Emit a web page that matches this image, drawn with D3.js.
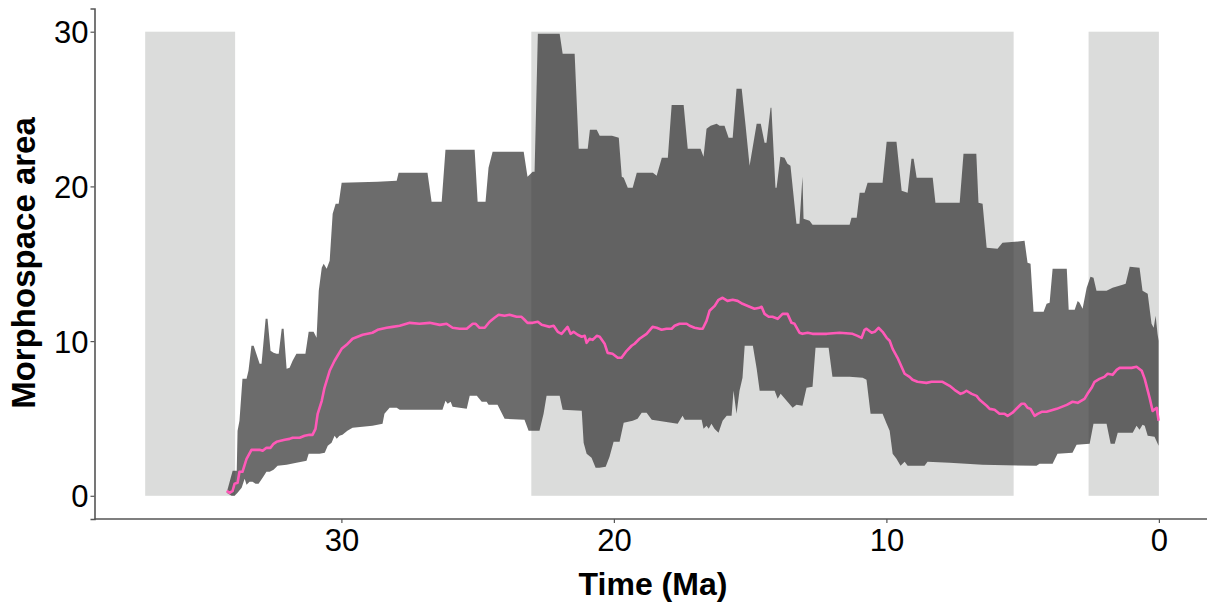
<!doctype html>
<html>
<head>
<meta charset="utf-8">
<script src="https://d3js.org/d3.v7.min.js"></script>
<style>
  body { margin: 0; background: #fff; }
  text { font-family: "Liberation Sans", Arial, Helvetica, sans-serif; }
</style>
</head>
<body>
<svg id="chart" width="1207" height="603"></svg>
<script>
// shaded epochs (Ma): Priabonian end, Miocene, Pleistocene
const epochStart = [37.2, 23.03, 2.58];
const epochEnd = [33.9, 5.33, 0];

const xTicks = [30, 20, 10, 0];
const yTicks = [0, 10, 20, 30];

// upper edge of the ribbon, [age Ma, area]
const upper = [
  [34.21,0.19],[33.99,1.62],[33.84,1.62],[33.81,4.20],[33.74,4.85],[33.63,7.56],[33.48,7.56],[33.41,8.08],
  [33.30,9.70],[33.22,9.70],[33.00,8.53],[32.93,8.53],[32.78,11.44],[32.71,11.44],[32.60,9.37],[32.49,9.24],
  [32.38,9.18],[32.30,9.18],[32.19,10.80],[32.12,10.80],[32.01,8.21],[31.90,8.27],[31.79,8.73],[31.65,9.18],
  [31.32,9.18],[31.20,10.60],[31.02,10.60],[30.91,10.21],[30.83,13.25],[30.72,14.74],[30.65,15.00],[30.54,14.67],
  [30.43,15.19],[30.32,18.23],[30.21,18.88],[30.10,18.88],[29.99,20.23],[28.67,20.30],[27.97,20.36],[27.90,20.88],
  [26.84,20.88],[26.69,19.00],[26.32,19.00],[26.18,22.37],[25.11,22.37],[25.00,19.00],[24.71,19.00],[24.60,21.20],
  [24.45,22.24],[23.31,22.24],[23.17,20.62],[22.98,20.94],[22.91,20.94],[22.79,29.86],[21.99,29.86],[21.88,28.57],
  [21.44,28.57],[21.29,22.43],[20.96,22.43],[20.88,23.66],[20.63,23.66],[20.52,23.27],[20.07,23.27],[19.82,23.14],
  [19.71,20.62],[19.64,20.56],[19.49,19.91],[19.31,19.91],[19.16,20.88],[18.57,20.88],[18.43,20.69],[18.24,21.85],
  [18.02,21.85],[17.88,25.27],[17.44,25.27],[17.29,22.43],[16.82,22.43],[16.71,21.91],[16.60,23.72],[16.45,23.92],
  [16.23,24.05],[16.12,23.92],[15.94,23.92],[15.79,23.14],[15.64,23.14],[15.50,26.31],[15.31,26.31],[15.17,23.98],
  [15.02,21.33],[14.76,24.05],[14.61,24.05],[14.47,22.82],[14.40,22.82],[14.25,25.08],[14.22,25.08],[14.07,19.91],
  [14.03,19.91],[13.89,21.91],[13.74,21.85],[13.63,21.46],[13.52,21.33],[13.30,17.58],[13.19,17.58],[13.08,20.62],
  [13.04,17.91],[12.82,17.78],[12.71,17.52],[11.35,17.52],[11.28,17.97],[11.09,17.97],[10.98,19.59],[10.80,19.59],
  [10.69,20.23],[10.14,20.23],[9.99,22.88],[9.63,22.88],[9.44,19.72],[9.22,19.59],[9.08,21.78],[9.00,21.78],
  [8.89,20.56],[8.30,20.56],[8.20,18.94],[7.31,18.94],[7.17,22.11],[6.70,22.11],[6.62,18.94],[6.47,18.88],
  [6.32,16.03],[5.92,15.97],[5.74,16.35],[4.93,16.48],[4.82,15.06],[4.71,15.00],[4.60,11.89],[4.23,11.89],
  [4.12,12.41],[4.01,12.48],[3.90,14.67],[3.38,14.67],[3.31,12.02],[3.09,12.02],[2.98,12.60],[2.91,12.48],
  [2.80,12.09],[2.65,13.45],[2.51,14.16],[2.40,14.09],[2.29,13.25],[1.92,13.25],[1.70,13.45],[1.33,13.64],
  [1.22,13.70],[1.07,14.80],[0.71,14.74],[0.60,13.25],[0.41,13.06],[0.27,11.12],[0.19,10.86],[0.12,11.64],
  [0.05,10.47],[0.01,10.02]
];

// lower edge of the ribbon
const lower = [
  [34.21,0.19],[34.03,0.00],[33.92,0.00],[33.81,0.19],[33.66,0.52],[33.55,1.10],[33.48,0.71],[33.37,0.90],
  [33.26,0.90],[33.15,0.78],[33.04,0.78],[32.89,1.16],[32.75,1.55],[32.63,1.55],[32.49,1.68],[32.34,1.94],
  [32.01,2.00],[31.65,2.13],[31.46,2.20],[31.28,2.26],[31.20,2.71],[30.80,2.71],[30.61,2.78],[30.50,3.23],
  [30.36,3.43],[30.25,3.88],[30.17,3.68],[30.07,3.88],[29.96,3.94],[29.78,4.20],[29.59,4.40],[28.86,4.52],
  [28.49,4.65],[28.42,5.30],[28.23,5.69],[27.97,5.69],[27.86,5.56],[26.29,5.56],[26.18,6.14],[26.10,5.95],
  [25.99,6.08],[25.92,5.75],[25.40,5.62],[25.29,6.46],[25.03,6.46],[24.85,6.08],[24.67,6.08],[24.60,5.88],
  [24.27,5.88],[24.01,4.98],[23.28,4.91],[23.13,4.20],[22.73,4.20],[22.58,5.30],[22.47,6.46],[21.99,6.46],
  [21.88,5.56],[21.18,5.49],[21.11,3.43],[21.00,2.71],[20.82,2.46],[20.67,1.81],[20.53,1.81],[20.30,1.87],
  [20.16,2.52],[20.01,3.49],[19.79,3.49],[19.64,4.72],[19.31,4.85],[19.13,4.98],[18.98,5.37],[18.80,5.37],
  [18.61,4.91],[17.66,4.65],[17.48,5.17],[17.40,4.91],[16.78,4.91],[16.71,4.33],[16.60,4.52],[16.52,4.33],
  [16.42,4.65],[16.31,4.33],[16.16,4.07],[16.01,4.85],[15.86,5.17],[15.68,5.17],[15.61,6.79],[15.50,5.30],
  [15.39,6.79],[15.28,7.63],[15.20,9.70],[14.90,9.70],[14.76,8.21],[14.65,6.79],[14.10,6.79],[13.99,6.27],
  [13.88,6.59],[13.66,6.14],[13.44,5.69],[13.30,5.88],[13.08,5.82],[12.93,6.98],[12.71,7.05],[12.60,9.57],
  [12.12,9.57],[11.98,7.69],[11.35,7.69],[10.87,7.63],[10.73,7.50],[10.58,5.30],[10.14,5.30],[9.99,4.65],
  [9.88,4.20],[9.77,2.71],[9.63,2.39],[9.48,1.94],[9.33,2.20],[9.22,1.94],[8.60,1.94],[8.49,2.20],
  [7.68,2.13],[6.47,2.00],[4.49,1.94],[4.38,2.07],[3.90,2.07],[3.72,2.71],[3.17,2.78],[3.02,3.30],
  [2.54,3.36],[2.40,4.65],[1.92,4.65],[1.77,3.36],[1.62,3.36],[1.51,4.07],[0.96,4.07],[0.82,4.52],
  [0.71,4.27],[0.60,4.59],[0.52,4.52],[0.41,3.88],[0.16,3.81],[0.01,3.23]
];

// median morphospace area
const median = [
  [34.21,0.32],[34.10,0.19],[33.99,0.32],[33.92,0.78],[33.81,0.84],[33.74,1.55],[33.63,1.55],[33.48,2.39],
  [33.30,2.97],[33.00,2.97],[32.89,2.91],[32.75,3.10],[32.60,3.10],[32.49,3.36],[32.38,3.49],[32.08,3.62],
  [31.90,3.68],[31.79,3.75],[31.53,3.75],[31.35,3.88],[31.17,3.94],[31.06,3.94],[30.95,4.33],[30.87,5.30],
  [30.72,6.14],[30.62,6.98],[30.43,8.08],[30.25,8.73],[29.99,9.50],[29.81,9.76],[29.59,10.15],[29.22,10.41],
  [28.86,10.54],[28.67,10.73],[28.34,10.86],[28.12,10.92],[27.86,10.99],[27.49,11.18],[27.13,11.12],[26.76,11.18],
  [26.39,11.05],[26.14,11.12],[25.92,10.86],[25.66,10.80],[25.40,10.80],[25.18,11.12],[25.07,11.12],[24.93,10.86],
  [24.74,10.86],[24.56,11.25],[24.38,11.51],[24.23,11.70],[24.01,11.64],[23.83,11.70],[23.57,11.57],[23.39,11.57],
  [23.28,11.38],[23.17,11.18],[22.98,11.18],[22.79,11.25],[22.65,11.05],[22.36,10.92],[22.21,10.99],[22.06,10.60],
  [21.92,10.47],[21.70,10.92],[21.59,10.47],[21.48,10.60],[21.33,10.41],[21.18,10.28],[21.07,10.34],[21.00,9.89],
  [20.89,10.15],[20.78,10.08],[20.63,10.34],[20.52,10.28],[20.34,9.83],[20.23,9.24],[20.05,9.18],[19.86,8.92],
  [19.72,8.92],[19.53,9.37],[19.35,9.70],[19.24,9.83],[19.06,10.15],[18.80,10.47],[18.58,10.92],[18.43,10.86],
  [18.25,10.73],[18.07,10.80],[17.88,10.80],[17.77,10.99],[17.59,11.12],[17.33,11.12],[17.22,10.99],[17.04,10.86],
  [16.85,10.80],[16.74,10.80],[16.60,11.31],[16.49,11.96],[16.30,12.28],[16.16,12.67],[16.01,12.80],[15.83,12.60],
  [15.64,12.67],[15.46,12.60],[15.28,12.41],[15.02,12.22],[14.84,12.09],[14.66,12.15],[14.58,12.22],[14.47,11.76],
  [14.32,11.57],[14.18,11.57],[13.99,11.44],[13.81,11.76],[13.63,11.76],[13.48,11.18],[13.37,11.12],[13.19,10.54],
  [13.08,10.47],[12.89,10.54],[12.71,10.47],[12.19,10.47],[11.72,10.54],[11.24,10.47],[11.06,10.34],[10.91,10.21],
  [10.80,10.73],[10.73,10.80],[10.54,10.54],[10.43,10.60],[10.29,10.86],[10.14,10.60],[9.99,10.21],[9.88,10.02],
  [9.77,9.50],[9.59,8.92],[9.33,7.89],[9.15,7.69],[9.04,7.50],[8.86,7.37],[8.53,7.30],[8.34,7.37],
  [7.94,7.37],[7.68,7.11],[7.50,6.85],[7.28,6.59],[7.17,6.66],[7.06,6.79],[6.87,6.59],[6.69,6.46],
  [6.58,6.21],[6.32,5.82],[6.21,5.62],[6.03,5.56],[5.85,5.30],[5.66,5.30],[5.55,5.17],[5.37,5.37],
  [5.19,5.69],[5.04,5.95],[4.93,5.95],[4.82,5.69],[4.71,5.62],[4.56,5.17],[4.45,5.30],[4.30,5.43],
  [4.12,5.43],[3.75,5.62],[3.38,5.88],[3.17,6.08],[2.98,6.01],[2.73,6.27],[2.62,6.59],[2.47,6.98],
  [2.36,7.37],[2.18,7.56],[2.00,7.69],[1.88,7.89],[1.70,7.82],[1.55,8.14],[1.44,8.27],[1.18,8.27],
  [1.00,8.27],[0.82,8.34],[0.63,8.08],[0.52,7.56],[0.34,6.33],[0.23,5.49],[0.08,5.69],[0.01,4.85]
];

const svg = d3.select('#chart');
const margin = {top: 8.5, left: 94.5, bottom: 84};
const height = +svg.attr('height');

// reversed time axis, ggplot-style 5% padding
const x = d3.scaleLinear()
  .domain([39.06, -1.86])
  .range([margin.left, margin.left + 40.92 * 27.25]);
const y = d3.scaleLinear()
  .domain([-1.5, 31.5])
  .range([height - margin.bottom, margin.top]);

const g = svg.append('g');

// epoch shading
g.selectAll('rect.epoch')
  .data(epochStart.map((s, i) => ({s: s, e: epochEnd[i]})))
  .join('rect')
  .attr('class', 'epoch')
  .attr('x', d => x(d.s))
  .attr('width', d => x(d.e) - x(d.s))
  .attr('y', y(30))
  .attr('height', y(0) - y(30))
  .attr('fill', '#dbdcdb');

// ribbon = upper edge then lower edge backwards
const line = d3.line().x(d => x(d[0])).y(d => y(d[1]));
g.append('path')
  .attr('d', line(upper.concat(lower.slice().reverse())) + 'Z')
  .attr('fill', '#333')
  .attr('fill-opacity', 0.72)
  .attr('stroke', 'none');

g.append('path')
  .attr('d', line(median))
  .attr('fill', 'none')
  .attr('stroke', '#ff59b8')
  .attr('stroke-width', 2.6)
  .attr('stroke-linejoin', 'round');

// axes
const xAxis = svg.append('g')
  .attr('transform', `translate(0, ${height - margin.bottom})`)
  .call(d3.axisBottom(x).tickValues(xTicks).tickSize(4).tickPadding(6).tickFormat(d3.format('d')));
const yAxis = svg.append('g')
  .attr('transform', `translate(${margin.left}, 0)`)
  .call(d3.axisLeft(y).tickValues(yTicks).tickSize(4).tickPadding(2).tickFormat(d3.format('d')));

[xAxis, yAxis].forEach(a => {
  a.select('.domain').attr('stroke', '#555').attr('stroke-width', 1.6);
  a.selectAll('.tick line').attr('stroke', '#555').attr('stroke-width', 1.2);
  a.selectAll('.tick text')
    .attr('fill', '#000')
    .style('font-size', '31px')
    .style('font-family', '"Liberation Sans", Arial, Helvetica, sans-serif');
});
xAxis.select('.domain').attr('d', `M${margin.left},0H1207`);
yAxis.selectAll('.tick text').attr('dy', '0.36em');

svg.append('text')
  .attr('x', 653)
  .attr('y', 595)
  .attr('text-anchor', 'middle')
  .attr('font-weight', 'bold')
  .attr('font-size', 32)
  .text('Time (Ma)');

svg.append('text')
  .attr('transform', 'translate(35, 263) rotate(-90)')
  .attr('text-anchor', 'middle')
  .attr('font-weight', 'bold')
  .attr('font-size', 33)
  .text('Morphospace area');
</script>
</body>
</html>
